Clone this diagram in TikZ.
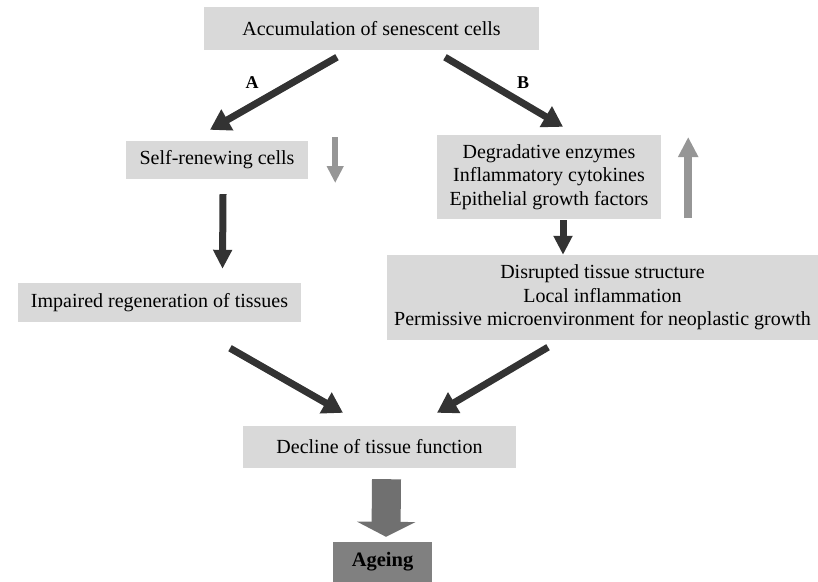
\documentclass[tikz,border=0pt]{standalone}
\usepackage{fontspec}
\setmainfont{Liberation Serif}
\usepackage{tikz}
\usetikzlibrary{arrows.meta,calc}
\definecolor{boxgray}{RGB}{217,217,217}
\definecolor{inkdark}{RGB}{51,51,51}
\definecolor{inklight}{RGB}{150,150,150}
\definecolor{agegray}{RGB}{128,128,128}
\definecolor{bigarrow}{RGB}{112,112,112}
\tikzset{
  panel/.style={fill=boxgray,inner sep=0pt,align=center,font=\fontsize{20}{23.5}\selectfont},
  agebox/.style={panel,fill=agegray,font=\fontsize{20.5}{23.5}\selectfont\bfseries},
  tag/.style={font=\fontsize{18}{20}\selectfont\bfseries},
  darr/.style={-{Triangle[length=20pt,width=23pt]},draw=inkdark,line width=7pt},
  varr/.style={-{Triangle[length=19pt,width=18pt]},draw=inkdark,line width=7pt},
  garr/.style={-{Triangle[length=17pt,width=16pt]},draw=inklight,line width=6.5pt},
  uparr/.style={-{Triangle[length=20pt,width=19pt]},draw=inklight,line width=8pt},
  blockarr/.style={-{Triangle[length=15pt,width=58pt]},draw=bigarrow,line width=29pt}
}

\begin{document}
\begin{tikzpicture}[x=1pt,y=-1pt]
\useasboundingbox (0,0) rectangle (818,581);
% boxes
\node[panel,minimum width=335pt,minimum height=43pt] (acc) at (371.5,28.5) {Accumulation of senescent cells};
\node[panel,minimum width=182pt,minimum height=38pt] (self) at (217,160) {Self-renewing cells};
\node[panel,minimum width=283pt,minimum height=39pt] (imp) at (159.5,302.5) {Impaired regeneration of tissues};
\node[panel,minimum width=224pt,minimum height=84pt] (secr) at (549,177) {Degradative enzymes\\Inflammatory cytokines\\Epithelial growth factors};
\node[panel,minimum width=431pt,minimum height=85pt] (disr) at (602.5,297.5) {Disrupted tissue structure\\Local inflammation\\Permissive microenvironment for neoplastic growth};
\node[panel,minimum width=273pt,minimum height=42pt] (decl) at (379.5,447) {Decline of tissue function};
\node[agebox,minimum width=99pt,minimum height=40pt] (age) at (382.5,562) {Ageing};
% branch labels
\node[tag] (la) at (252,83) {A};
\node[tag] (lb) at (523,83) {B};
% arrows
\draw[darr] ([shift={(-34.5,7)}]acc.south) -- ([shift={(-7,-11)}]self.north);
\draw[darr] ([shift={(73.5,7)}]acc.south) -- ([shift={(14,-8)}]secr.north);
\draw[varr] ([shift={(6,15)}]self.south) -- ([shift={(63,-14)}]imp.north);
\draw[garr] ([shift={(27,-23)}]self.east) -- ([shift={(27,23)}]self.east);
\draw[uparr] ([shift={(27,41)}]secr.east) -- ([shift={(27,-40)}]secr.east);
\draw[varr] ([shift={(14,1)}]secr.south) -- ([shift={(-39.5,0)}]disr.north);
\draw[darr] ([shift={(70.5,26)}]imp.south) -- ([shift={(-36.5,-13)}]decl.north);
\draw[darr] ([shift={(-54.5,7)}]disr.south) -- ([shift={(57.5,-13)}]decl.north);
\draw[blockarr] ([shift={(7,11)}]decl.south) -- ([shift={(3.5,-5)}]age.north);
\end{tikzpicture}
\end{document}
